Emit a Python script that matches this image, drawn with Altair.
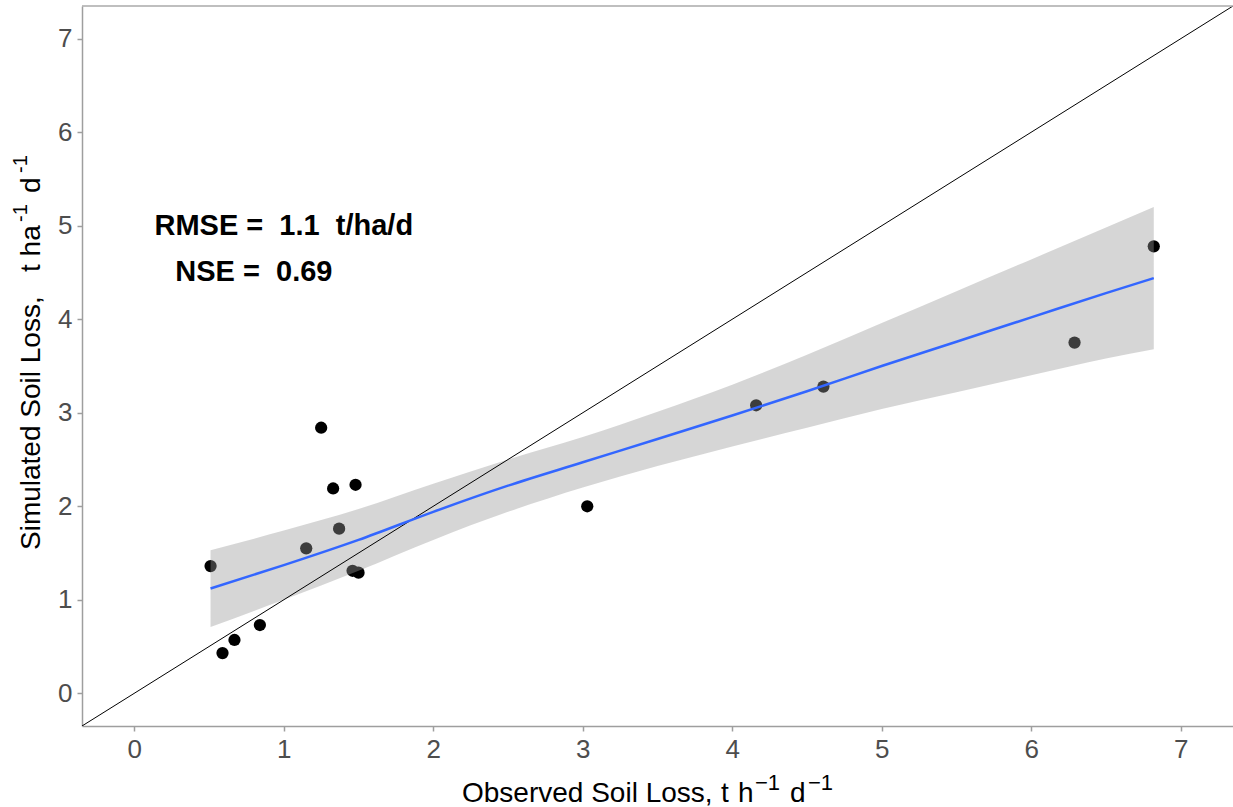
import altair as alt
import pandas as pd

# Observed vs simulated soil loss
obs = [0.51, 0.59, 0.67, 0.84, 1.15, 1.25, 1.33, 1.37, 1.48, 1.46, 1.50, 3.03, 4.16, 4.61, 6.29, 6.82]
sim = [1.36, 0.43, 0.57, 0.73, 1.55, 2.84, 2.19, 1.76, 2.23, 1.31, 1.29, 2.00, 3.08, 3.28, 3.75, 4.78]

# Smoothed fit and its confidence band
fit_x = [0.51, 1.0, 1.5, 2.0, 2.5, 3.0, 3.5, 4.0, 4.5, 5.0, 5.5, 6.0, 6.5, 6.82]
fit_y = [1.12, 1.37, 1.64, 1.94, 2.22, 2.47, 2.72, 2.97, 3.23, 3.50, 3.76, 4.02, 4.28, 4.44]
fit_lo = [0.71, 1.00, 1.31, 1.64, 1.94, 2.20, 2.43, 2.64, 2.84, 3.04, 3.22, 3.40, 3.58, 3.68]
fit_hi = [1.53, 1.74, 1.97, 2.24, 2.50, 2.74, 3.01, 3.30, 3.62, 3.96, 4.30, 4.64, 4.98, 5.20]

# 1:1 line end points
one_x = [-0.35, 7.35]
one_y = [-0.35, 7.35]

ann_x = [1.0, 0.8]
ann_y = [5.0, 4.5]
ann_text = ["RMSE =\u00a0 1.1\u00a0 t/ha/d", "NSE =\u00a0 0.69"]

tick_vals = [0, 1, 2, 3, 4, 5, 6, 7]

dom = [-0.35, 7.35]
W, H = 1151, 720

pts = pd.DataFrame({"obs": obs, "sim": sim})
fit = pd.DataFrame({"x": fit_x, "y": fit_y, "lo": fit_lo, "hi": fit_hi})
one = pd.DataFrame({"x": one_x, "y": one_y})
ann = pd.DataFrame({"x": ann_x, "y": ann_y, "t": ann_text})
single = pd.DataFrame({"k": [0]})

FONT = "Liberation Sans"

xs = alt.Scale(domain=dom, nice=False, zero=False)
ys = alt.Scale(domain=dom, nice=False, zero=False)

xaxis = alt.Axis(title=None, values=tick_vals, format="d")
yaxis = alt.Axis(title=None, values=tick_vals, format="d")

points = alt.Chart(pts).mark_circle(size=150, color="black", opacity=1).encode(
    x=alt.X("obs:Q", scale=xs, axis=xaxis),
    y=alt.Y("sim:Q", scale=ys, axis=yaxis),
)

band = alt.Chart(fit).mark_area(color="#999999", opacity=0.4, interpolate="monotone").encode(
    x=alt.X("x:Q", scale=xs),
    y=alt.Y("lo:Q", scale=ys),
    y2="hi:Q",
)

line = alt.Chart(fit).mark_line(color="#3366FF", strokeWidth=2.5, interpolate="monotone").encode(
    x=alt.X("x:Q", scale=xs),
    y=alt.Y("y:Q", scale=ys),
)

oneline = alt.Chart(one).mark_line(color="black", strokeWidth=1, clip=True).encode(
    x=alt.X("x:Q", scale=xs),
    y=alt.Y("y:Q", scale=ys),
)

text = alt.Chart(ann).mark_text(
    font=FONT, fontSize=29, fontWeight="bold", color="black",
    align="center", baseline="middle",
).encode(
    x=alt.X("x:Q", scale=xs),
    y=alt.Y("y:Q", scale=ys),
    text="t:N",
)

topline = alt.Chart(single).mark_rule(color="#AAAAAA", strokeWidth=1.5).encode(
    x=alt.value(0), x2=alt.value(W), y=alt.value(0)
)


def piece(txt, px, py, size, angle=0):
    kw = dict(text=txt, font=FONT, fontSize=size, color="black",
              align="left", baseline="alphabetic")
    if angle:
        kw["angle"] = angle
    return alt.Chart(single).mark_text(**kw).encode(x=alt.value(px), y=alt.value(py))


# x-axis title: Observed Soil Loss, t h^-1 d^-1
xt = [
    piece("Observed Soil Loss,", 380, 796, 28),
    piece("t", 639, 796, 28),
    piece("h", 656, 796, 28),
    piece("\u22121", 673, 784, 22),
    piece("d", 708, 796, 28),
    piece("\u22121", 726, 784, 22),
]

# y-axis title: Simulated Soil Loss,   t ha-1 d-1 (rotated)
yt = [
    piece("Simulated Soil Loss,", -42, 544, 28, 270),
    piece("t ha", -42, 266, 28, 270),
    piece("-1", -55, 216, 20, 270),
    piece("d", -42, 187, 28, 270),
    piece("-1", -55, 167, 20, 270),
]

chart = alt.layer(points, band, oneline, line, text, topline, *xt, *yt).properties(
    width=W, height=H,
    autosize=alt.AutoSizeParams(type="none"),
    padding={"left": 82, "top": 6, "right": 0, "bottom": 81},
).configure_view(stroke=None).configure_axis(
    grid=False,
    domainColor="#9E9E9E", domainWidth=1.5,
    tickColor="#9E9E9E", tickSize=5, tickWidth=1.5,
    labelFont=FONT, labelFontSize=26, labelColor="#4D4D4D", labelPadding=5,
)

chart.save("out.html", embed_options={"renderer": "svg", "actions": False})
